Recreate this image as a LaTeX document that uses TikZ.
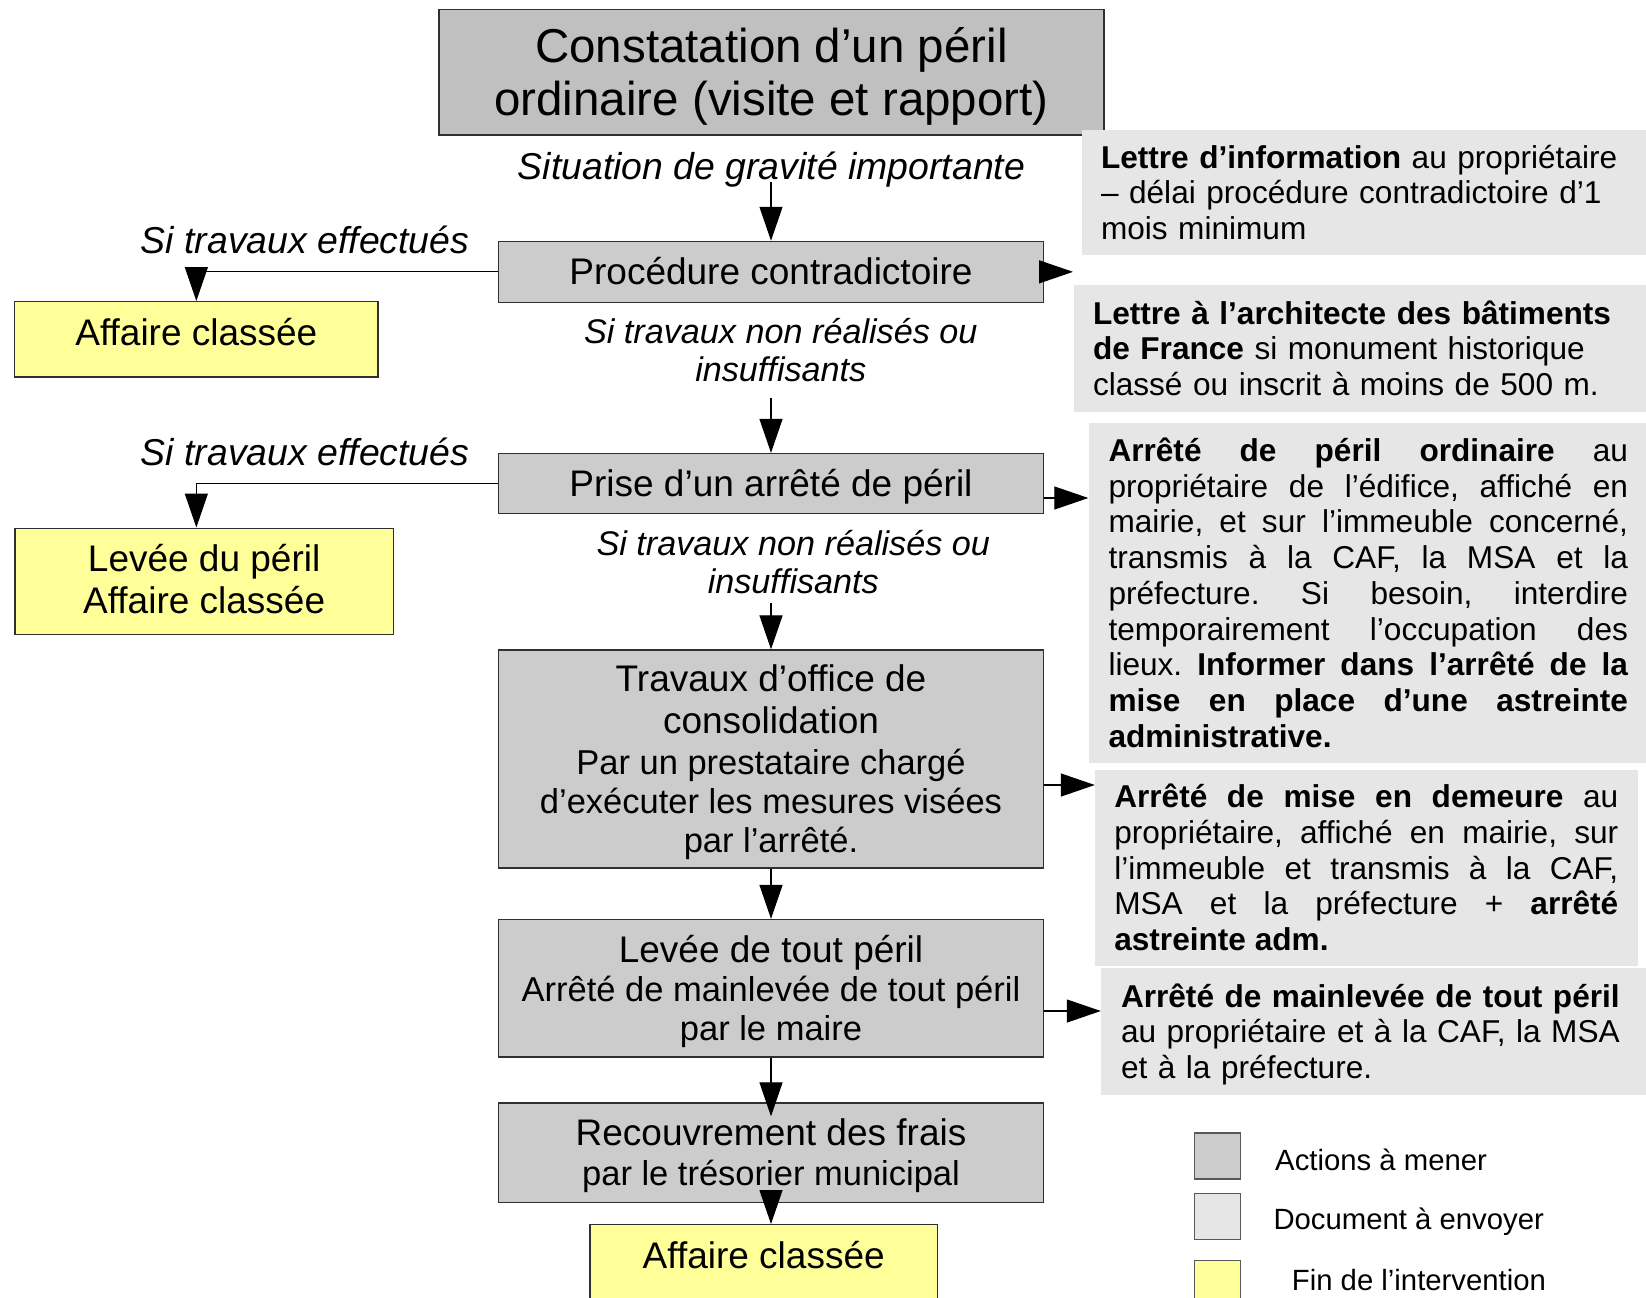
\documentclass[tikz,border=0pt]{standalone}
\usepackage{fontspec}
\setmainfont{Liberation Sans}
\usetikzlibrary{arrows.meta,calc}

\definecolor{headfill}{HTML}{C0C0C0}
\definecolor{actfill}{HTML}{CCCCCC}
\definecolor{docfill}{HTML}{E6E6E6}
\definecolor{endfill}{HTML}{FFFF99}
\definecolor{edge}{HTML}{303030}

\hyphenpenalty=10000
\exhyphenpenalty=10000

% invisible struts that fix the top and bottom of a text block
\newcommand\upS[1]{\rule{0pt}{#1}}
\newcommand\dnS[1]{\rule[-#1]{0pt}{#1}}
% the two sizes used in the action boxes
\newcommand\fA{\fontsize{37}{44}\selectfont}
\newcommand\fB{\fontsize{34.5}{38.6}\selectfont}
% stretchable inter-word spaces for the justified notes
\newcommand\justsp{\frenchspacing\spaceskip=.278em plus 3em minus .02em\relax}

\tikzset{
  act/.style={draw=edge, line width=1.3pt, fill=actfill, minimum width=544.8pt,
    inner sep=0pt, align=center, font=\fB},
  endbox/.style={draw=edge, line width=1.3pt, fill=endfill, inner sep=0pt,
    font=\fontsize{37}{41.6}\selectfont},
  doc/.style={fill=docfill, inner ysep=0pt, font=\fontsize{31.6}{35.7}\selectfont},
  docl/.style={doc, align=left},
  docj/.style={doc, align=justify},
  cond/.style={font=\fontsize{37.4}{42}\selectfont\itshape, inner sep=0pt},
  condtwo/.style={font=\fontsize{34.2}{38.3}\selectfont\itshape, align=center,
    inner xsep=0pt, anchor=south},
  arr/.style={line width=1.2pt, -{Triangle[length=34pt,width=23pt]}},
  legsq/.style={draw=black!65, line width=1.3pt, minimum width=45.8pt,
    minimum height=46pt, inner sep=0pt},
  legtxt/.style={font=\fontsize{29.3}{34}\selectfont, inner sep=0pt, anchor=base west}
}

\begin{document}
\begin{tikzpicture}[x=1pt,y=-1pt]
\useasboundingbox (0,0) rectangle (1646,1298);
\fill[white] (0,0) rectangle (1646,1298);
\clip (0,0) rectangle (1646,1298);

% ---- main column -------------------------------------------------------
\node[act, fill=headfill, minimum width=665pt, minimum height=125.5pt,
      font=\fontsize{47.5}{53}\selectfont] (head) at (771.5,72.25)
  {\upS{46pt}Constatation d’un péril\\ordinaire (visite et rapport)\dnS{12pt}};

\node[act, minimum height=60.9pt] (proc) at (771,271.85)
  {\fA\upS{38pt}\dnS{12pt}Procédure contradictoire};

\node[act, minimum height=59.8pt] (prise) at (771,483.4)
  {\fA\upS{38pt}\dnS{12pt}Prise d’un arrêté de péril};

\node[act, minimum height=218pt] (trav) at (771,759)
  {\fA\upS{38pt}Travaux d’office de\\[3.4pt]\fA consolidation\\[2.4pt]%
   \fB Par un prestataire chargé\\\fB d’exécuter les mesures visées\\%
   \fB par l’arrêté.\dnS{12pt}};

\node[act, minimum height=137.5pt] (levee) at (771,988.25)
  {\fA\upS{38pt}Levée de tout péril\\[1.3pt]\fB Arrêté de mainlevée de tout péril\\%
   \fB par le maire\dnS{12pt}};

\node[act, minimum height=99.7pt] (recouv) at (771,1152.85)
  {\fA\upS{38pt}Recouvrement des frais\\[1.3pt]\fB par le trésorier municipal\dnS{12pt}};

% ---- end of procedure boxes -------------------------------------------
\node[endbox, minimum width=363.3pt, text height=43.3pt, text depth=32pt]
  (aff1) at (196.35,339.35) {Affaire classée};
\node[endbox, align=center, minimum width=378.3pt, minimum height=106.3pt]
  (aff2) at (204.15,581.3) {\upS{34.4pt}Levée du péril\\Affaire classée\dnS{12pt}};
\node[endbox, minimum width=347.4pt, text height=44pt, text depth=60pt, anchor=north]
  (aff3) at (763.7,1224) {Affaire classée};

% ---- documents to send ------------------------------------------------
\node[docl, text width=530pt, inner xsep=19pt, minimum height=125pt] (d1) at (1366,192.5)
  {\upS{34.7pt}\textbf{Lettre d’information} au propriétaire\\– délai procédure contradictoire d’1\\mois minimum\dnS{12pt}};

\node[docl, text width=537.6pt, inner xsep=19.4pt, minimum height=126.7pt] (d2) at (1361.8,348.35)
  {\upS{34.7pt}\textbf{Lettre à l’architecte des bâtiments}\\\textbf{de France} si monument historique\\classé ou inscrit à moins de 500 m.\dnS{12pt}};

\node[docj, text width=519.5pt, inner xsep=20pt, minimum height=340pt] (d3) at (1368.25,593)
  {\justsp\upS{34.7pt}\textbf{Arrêté de péril ordinaire} au\linebreak
   propriétaire de l’édifice, affiché en\linebreak
   mairie, et sur l’immeuble concerné,\linebreak
   transmis à la CAF, la MSA et la\linebreak
   préfecture. Si besoin, interdire\linebreak
   temporairement l’occupation des\linebreak
   lieux. \textbf{Informer dans l’arrêté de la\linebreak
   mise en place d’une astreinte\linebreak
   administrative.}\dnS{12pt}};

\node[docj, text width=504pt, inner xsep=19.3pt, minimum height=196.5pt] (d4) at (1366.3,867.75)
  {\justsp\upS{34.7pt}\textbf{Arrêté de mise en demeure} au\linebreak
   propriétaire, affiché en mairie, sur\linebreak
   l’immeuble et transmis à la CAF,\linebreak
   MSA et la préfecture + \textbf{arrêté\linebreak
   astreinte adm.}\dnS{12pt}};

\node[docl, text width=509pt, inner xsep=20pt, minimum height=127pt] (d5) at (1375.5,1031.5)
  {\upS{34.7pt}\textbf{Arrêté de mainlevée de tout péril}\\au propriétaire et à la CAF, la MSA\\et à la préfecture.\dnS{12pt}};

% ---- conditions -------------------------------------------------------
\node[cond, anchor=south, text depth=2.4pt] (lab1) at (771.5,181.7)
  {Situation de gravité importante};
\node[condtwo, inner ysep=4.3pt] (lab2) at (780.8,398.3)
  {Si travaux non réalisés ou\\insuffisants\dnS{12pt}};
\node[condtwo, inner ysep=0pt] (lab3) at (793.3,603.3)
  {Si travaux non réalisés ou\\insuffisants\dnS{9.3pt}};
\node[cond, anchor=base] (lab4) at (305,253.3) {Si travaux effectués};
\node[cond, anchor=base] (lab5) at (305,465) {Si travaux effectués};

% ---- connectors -------------------------------------------------------
\draw[arr] (lab1.south -| proc.north) -- (proc.north);
\draw[arr] (lab2.south -| prise.north) -- (prise.north);
\draw[arr] (lab3.south -| trav.north) -- (trav.north);
\draw[arr] (trav) -- (levee);
\draw[arr, shorten >=-14pt] (levee) -- (recouv);
\draw[arr] (recouv.south) -- (recouv.south |- aff3.north);

\draw[arr] (proc.west) -| (aff1.north);
\draw[arr] (prise.west) -| (aff1.north |- aff2.north);

\coordinate (procout) at (1073,271.85);
\draw[arr] (proc.east) -- (procout);
\coordinate (priseout) at ([yshift=-14.6pt]prise.east);
\draw[arr] (priseout) -- (priseout -| d3.west);
\coordinate (travout) at ([yshift=-26pt]trav.east);
\draw[arr] (travout) -- (travout -| d4.west);
\coordinate (leveeout) at ([yshift=-22.75pt]levee.east);
\draw[arr] (leveeout) -- (leveeout -| d5.west);

% ---- legend -----------------------------------------------------------
\node[legsq, fill=actfill] (k1) at (1217.4,1156) {};
\node[legsq, fill=docfill] (k2) at (1217.4,1216.6) {};
\node[legsq, fill=endfill] (k3) at (1217.4,1283.7) {};
\node[legtxt] (t1) at (1275,1170) {Actions à mener};
\node[legtxt] (t2) at (1273.3,1229.3) {Document à envoyer};
\node[legtxt] (t3) at (1291.7,1290) {Fin de l’intervention};
\end{tikzpicture}
\end{document}
